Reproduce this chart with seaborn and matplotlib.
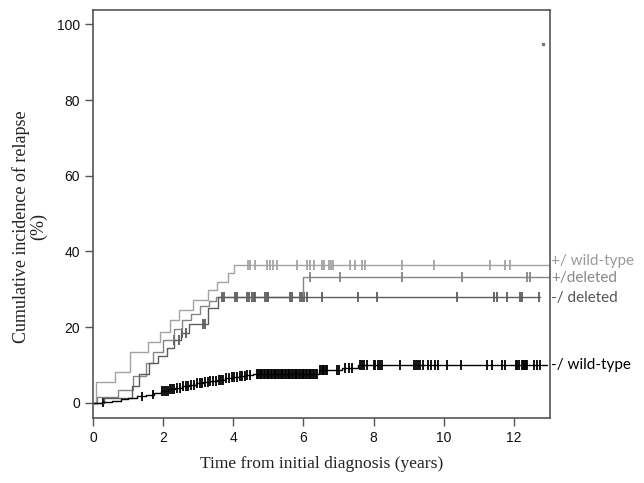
import numpy as np
import pandas as pd
import matplotlib.pyplot as plt
import seaborn as sns

# step curves: event times (years) and cumulative incidence (%)
wt_pos_t = [0, 0.09, 0.63, 1.06, 1.58, 1.91, 2.2, 2.45, 2.85, 3.29, 3.53, 3.86, 4.03, 13.0]
wt_pos_y = [0, 5.5, 8.2, 13.5, 16.1, 18.7, 21.8, 24.5, 27.1, 29.8, 31.9, 34.2, 36.4, 36.4]

del_pos_t = [0, 0.1, 0.7, 1.15, 1.5, 1.7, 2.0, 2.3, 2.55, 2.8, 3.05, 3.3, 3.5, 6.0, 13.0]
del_pos_y = [0, 1.5, 3.4, 7.0, 10.5, 13.5, 16.5, 19.5, 22.0, 23.5, 25.5, 27.0, 28.0, 33.2, 33.2]

del_neg_t = [0, 0.3, 1.1, 1.3, 1.6, 1.85, 2.1, 2.3, 2.5, 2.75, 3.29, 3.57, 12.75]
del_neg_y = [0, 1.4, 4.5, 7.5, 10.5, 12.5, 14.5, 16.5, 18.5, 20.8, 25.0, 27.9, 27.9]

wt_neg_t = [0, 0.25, 0.55, 0.8, 1.0, 1.25, 1.5, 1.75, 1.95, 2.15, 2.35, 2.55, 2.75, 2.95,
            3.15, 3.35, 3.55, 3.75, 3.95, 4.15, 4.35, 4.55, 6.45, 7.1, 7.55, 12.95]
wt_neg_y = [0, 0.3, 0.6, 1.0, 1.4, 1.7, 2.2, 2.7, 3.2, 3.6, 4.0, 4.4, 4.8, 5.2,
            5.5, 5.8, 6.1, 6.5, 6.8, 7.1, 7.4, 7.7, 8.6, 9.3, 9.9, 9.9]

# censoring times (years)
wt_pos_c = [4.43, 4.48, 4.62, 4.96, 5.05, 5.14, 5.24, 5.81, 6.1, 6.2, 6.3, 6.53, 6.6,
            6.72, 6.78, 6.85, 7.33, 7.48, 7.67, 7.76, 8.81, 9.72, 11.33, 11.76, 11.9]
del_pos_c = [6.2, 7.05, 8.81, 10.52, 12.38, 12.46]
del_neg_c = [2.3, 2.45, 2.55, 2.65, 3.15, 3.2, 3.67, 3.74, 4.05, 4.12, 4.39, 4.45, 4.52,
             4.58, 4.62, 4.91, 4.96, 5.0, 5.62, 5.67, 5.91, 5.96, 6.03, 6.1, 6.53, 7.57,
             8.1, 10.38, 11.43, 11.52, 11.81, 12.19, 12.24, 12.71]
wt_neg_c = [0.29, 1.39, 1.72, 1.96, 2.02, 2.08, 2.14, 2.2, 2.26, 2.32, 2.4, 2.48, 2.57,
            2.65, 2.72, 2.8, 2.88, 2.97, 3.05, 3.12, 3.2, 3.28, 3.35, 3.42, 3.5, 3.58,
            3.65, 3.72, 3.8, 3.88, 3.95, 4.02, 4.1, 4.18, 4.25, 4.33, 4.4, 4.48,
            4.67, 4.71, 4.75, 4.79, 4.83, 4.87, 4.91, 4.95, 4.99, 5.03, 5.07, 5.11,
            5.15, 5.19, 5.23, 5.27, 5.31, 5.35, 5.39, 5.43, 5.47, 5.51, 5.55, 5.59,
            5.63, 5.67, 5.71, 5.75, 5.79, 5.83, 5.87, 5.91, 5.95, 5.99, 6.03, 6.07,
            6.11, 6.15, 6.19, 6.23, 6.27, 6.31, 6.35, 6.38,
            6.48, 6.52, 6.56, 6.6, 6.64, 6.67, 6.96, 7.02, 7.19, 7.3, 7.38, 7.62, 7.67,
            7.72, 7.82, 8.0, 8.05, 8.12, 8.19, 8.24, 8.76, 9.14, 9.2, 9.27, 9.33, 9.42,
            9.55, 9.65, 9.75, 9.85, 10.1, 10.48, 11.24, 11.38, 11.67, 11.76, 12.05,
            12.1, 12.14, 12.24, 12.27, 12.3, 12.33, 12.36, 12.38, 12.57, 12.67, 12.76]

groups = ['+/ wild-type', '+/deleted', '-/ deleted', '-/ wild-type']
line_colors = ['#a3a3a3', '#858585', '#5c5c5c', '#000000']
label_colors = ['#9b9b9b', '#888888', '#555555', '#000000']
label_y = [37.5, 33.0, 27.6, 9.9]

curves = [(wt_pos_t, wt_pos_y, wt_pos_c), (del_pos_t, del_pos_y, del_pos_c),
          (del_neg_t, del_neg_y, del_neg_c), (wt_neg_t, wt_neg_y, wt_neg_c)]

rows, cens = [], []
for g, (t, y, c) in zip(groups, curves):
    rows.append(pd.DataFrame({'time': t, 'cif': y, 'group': g}))
    idx = np.searchsorted(t, c, side='right') - 1
    cens.append(pd.DataFrame({'time': c, 'cif': np.array(y)[idx], 'group': g}))
df = pd.concat(rows, ignore_index=True)
cdf = pd.concat(cens, ignore_index=True)

sns.set_style('white')
fig = plt.figure(figsize=(6.44, 4.83), dpi=100)
ax = fig.add_axes([0.1444, 0.1346, 0.709, 0.844])

pal = dict(zip(groups, line_colors))
sns.lineplot(data=df, x='time', y='cif', hue='group', palette=pal, estimator=None,
             drawstyle='steps-post', linewidth=1.0, legend=False, ax=ax)
sns.scatterplot(data=cdf, x='time', y='cif', hue='group', palette=pal, marker='|',
                s=50, linewidth=1.3, legend=False, ax=ax)
ax.plot([12.82], [94.7], 's', color='#777777', markersize=1.5)

for g, col, yy in zip(groups, label_colors, label_y):
    ax.text(13.06, yy, g, color=col, fontsize=11, family=['Lato', 'DejaVu Sans'],
            ha='left', va='center', clip_on=False)

ax.set_xlim(0, 13.02)
ax.set_ylim(-4, 103.7)
ax.set_xticks([0, 2, 4, 6, 8, 10, 12])
ax.set_yticks([0, 20, 40, 60, 80, 100])
for sp in ax.spines.values():
    sp.set_color('#555555')
    sp.set_linewidth(1.2)
ax.tick_params(axis='both', direction='out', length=6, width=1.0, color='#555555',
               labelsize=10, labelcolor='#111111', left=True, bottom=True)
for lab in ax.get_xticklabels() + ax.get_yticklabels():
    lab.set_family('Liberation Sans')

ax.set_xlabel('Time from initial diagnosis (years)', family='Liberation Serif',
              fontsize=12.6, color='#222222', labelpad=8)
ax.set_ylabel('Cumulative incidence of relapse\n(%)', family='Liberation Serif',
              fontsize=13, color='#222222', linespacing=1.0)
ax.yaxis.set_label_coords(-0.1, 0.47)

fig.savefig('out.png', dpi=100)
